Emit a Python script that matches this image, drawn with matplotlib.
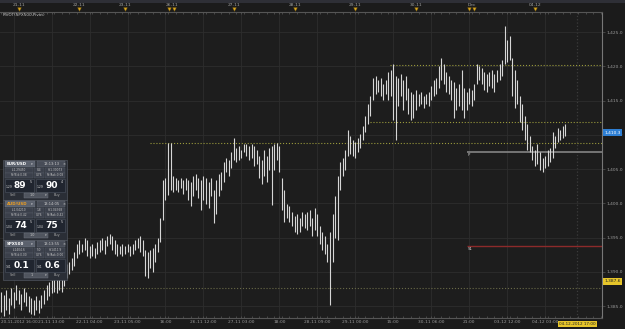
import numpy as np
import matplotlib.pyplot as plt
from matplotlib.patches import Rectangle
from matplotlib.ticker import FixedLocator, MultipleLocator
from matplotlib.transforms import blended_transform_factory, ScaledTranslation

# hourly SPX500 bars (high / low)
highs = [1387.0, 1386.6, 1387.3, 1386.2, 1387.6, 1387.0, 1388.1, 1387.3, 1386.8, 1387.6,
         1387.0, 1386.5, 1386.2, 1385.9, 1386.5, 1385.9, 1386.6, 1387.3, 1388.1, 1388.5,
         1388.8, 1389.4, 1389.1, 1389.2, 1389.2, 1390.3, 1391.1, 1391.4, 1392.0, 1392.9,
         1394.1, 1394.6, 1394.1, 1394.9, 1394.6, 1393.8, 1394.1, 1393.5, 1394.3, 1394.6,
         1394.9, 1394.6, 1395.2, 1395.5, 1395.2, 1394.6, 1394.1, 1393.8, 1394.1, 1393.8,
         1394.1, 1393.8, 1394.1, 1394.6, 1394.9, 1395.2, 1394.6, 1393.2, 1392.9, 1393.2,
         1393.5, 1394.1, 1394.9, 1397.8, 1403.4, 1403.7, 1408.8, 1408.8, 1404.0, 1403.7,
         1403.4, 1403.7, 1403.4, 1403.7, 1403.4, 1403.1, 1404.0, 1404.3, 1403.7, 1403.4,
         1404.0, 1403.7, 1403.1, 1403.7, 1401.9, 1403.4, 1404.3, 1404.6, 1406.0, 1406.6,
         1406.3, 1407.5, 1409.5, 1408.1, 1408.4, 1407.8, 1408.6, 1408.6, 1408.4, 1408.6,
         1408.4, 1407.8, 1406.9, 1406.3, 1407.8, 1406.9, 1408.1, 1408.4, 1408.6, 1408.8,
         1408.4, 1403.7, 1401.9, 1399.9, 1399.6, 1398.7, 1398.1, 1398.4, 1397.8, 1398.7,
         1398.4, 1398.7, 1399.0, 1397.8, 1399.3, 1398.4, 1396.7, 1395.8, 1395.2, 1394.1,
         1395.8, 1398.4, 1401.1, 1404.0, 1406.0, 1406.6, 1407.8, 1410.7, 1409.8, 1409.2,
         1408.9, 1409.5, 1410.1, 1411.3, 1412.7, 1414.5, 1415.7, 1418.3, 1418.6, 1418.0,
         1418.3, 1417.4, 1418.0, 1419.2, 1419.5, 1420.3, 1418.6, 1418.3, 1418.9, 1418.0,
         1418.6, 1416.8, 1416.2, 1415.9, 1416.5, 1415.9, 1416.2, 1415.7, 1415.9, 1416.2,
         1417.1, 1418.0, 1418.3, 1420.0, 1421.2, 1420.3, 1419.2, 1418.6, 1418.0, 1417.7,
         1416.8, 1417.4, 1419.5, 1416.8, 1416.2, 1416.8, 1416.5, 1417.4, 1420.3, 1420.0,
         1419.7, 1419.2, 1418.9, 1419.2, 1419.5, 1418.9, 1419.5, 1420.3, 1420.9, 1425.9,
         1423.8, 1424.4, 1421.2, 1419.5, 1418.0, 1415.7, 1414.5, 1412.7, 1411.6, 1409.8,
         1408.4, 1407.8, 1408.6, 1407.5, 1406.6, 1406.9, 1407.8, 1408.1, 1410.4, 1409.8,
         1411.0, 1410.7, 1411.3, 1411.6]
lows = [1384.1, 1383.5, 1384.4, 1383.8, 1385.1, 1384.7, 1385.9, 1385.3, 1384.4, 1385.6,
        1385.0, 1384.1, 1383.8, 1383.7, 1384.4, 1384.0, 1384.7, 1385.3, 1385.9, 1386.5,
        1386.9, 1387.0, 1386.9, 1387.3, 1387.0, 1387.9, 1389.1, 1389.7, 1390.3, 1390.8,
        1392.0, 1392.6, 1392.9, 1393.2, 1392.3, 1392.0, 1392.3, 1392.0, 1392.6, 1392.9,
        1393.2, 1392.6, 1393.8, 1394.1, 1393.2, 1392.6, 1392.3, 1392.6, 1392.3, 1392.6,
        1392.9, 1392.3, 1392.6, 1393.2, 1393.5, 1392.9, 1392.3, 1389.4, 1389.1, 1390.5,
        1390.0, 1391.4, 1392.9, 1394.3, 1397.6, 1400.5, 1401.2, 1401.9, 1401.6, 1401.9,
        1401.6, 1402.2, 1401.4, 1401.9, 1400.5, 1399.6, 1401.1, 1401.9, 1400.8, 1399.0,
        1400.5, 1399.9, 1399.3, 1401.1, 1397.1, 1398.4, 1401.1, 1401.9, 1403.1, 1404.6,
        1404.0, 1405.1, 1406.3, 1406.0, 1406.3, 1406.6, 1407.5, 1406.9, 1406.3, 1406.6,
        1405.4, 1405.7, 1403.7, 1402.8, 1404.0, 1403.1, 1404.9, 1399.7, 1404.9, 1406.3,
        1404.6, 1399.0, 1397.3, 1397.8, 1397.3, 1396.7, 1395.8, 1395.5, 1395.8, 1396.7,
        1396.4, 1396.1, 1396.7, 1395.2, 1396.1, 1395.2, 1394.1, 1393.2, 1392.6, 1391.4,
        1385.1, 1391.4, 1394.9, 1394.6, 1401.9, 1404.0, 1404.9, 1406.9, 1407.2, 1406.9,
        1406.6, 1407.5, 1408.1, 1409.2, 1410.4, 1411.6, 1412.7, 1415.1, 1415.9, 1416.2,
        1415.7, 1415.1, 1415.9, 1415.1, 1415.7, 1412.2, 1409.2, 1414.2, 1415.7, 1413.6,
        1415.1, 1413.0, 1412.2, 1412.4, 1413.6, 1414.2, 1414.5, 1413.9, 1414.5, 1414.2,
        1415.1, 1415.7, 1415.9, 1416.8, 1418.0, 1417.4, 1416.2, 1415.9, 1415.1, 1412.4,
        1413.6, 1414.2, 1413.6, 1412.4, 1413.6, 1414.5, 1414.2, 1415.1, 1417.4, 1418.0,
        1417.4, 1416.5, 1416.2, 1417.1, 1416.8, 1416.2, 1417.7, 1418.0, 1418.6, 1420.3,
        1420.6, 1420.9, 1415.7, 1413.9, 1414.5, 1411.9, 1410.7, 1409.2, 1407.8, 1407.5,
        1406.3, 1405.4, 1405.7, 1404.9, 1404.6, 1405.1, 1405.4, 1406.0, 1406.6, 1408.1,
        1408.9, 1409.2, 1409.5, 1409.8]

# pivot levels
level_values = [1420.2, 1411.9, 1408.8, 1407.5, 1393.8, 1387.6]
level_start = [153.8, 145.8, 58.9, 184.2, 184.2, 0]
level_names = ["", "", "", "P", "S1", ""]

price_ticks = [1385, 1390, 1395, 1400, 1405, 1410, 1415, 1420, 1425]
last_price = 1410.3
marked_price = 1388.6

time_tick_idx = [5, 20, 35, 50, 65, 80, 95, 110, 125, 140, 155, 170, 185, 200, 215]
time_tick_labels = ["20-11-2012 16:00", "21-11 13:00", "22-11 04:00", "23-11 05:00", "16:00",
                    "26-11 12:00", "27-11 03:00", "18:00", "28-11 09:00", "29-11 00:00",
                    "15:00", "30-11 06:00", "21:00", "03-12 12:00", "04-12 03:00"]
day_idx = [7, 31, 49, 67.5, 92, 116, 140, 164, 186, 211]
day_labels = ["21-11", "22-11", "23-11", "26-11", "27-11", "28-11", "29-11", "30-11", "Dec", "04-12"]
event_idx = [7, 31, 49, 66.5, 68.5, 92, 116, 140, 164, 185, 187, 211]
cursor_idx = 227.7
cursor_label = "04-12-2012 17:00"

W, H = 625, 329
bg = '#1b1b1b'
fig = plt.figure(figsize=(W / 100, H / 100), dpi=100, facecolor=bg)
ax = fig.add_axes([0, (H - 318) / H, 602 / W, 306 / H])
ax.set_facecolor('#1d1d1d')

x = np.arange(len(highs))
ax.vlines(x, lows, highs, color='#d6d6d6', lw=0.8, zorder=3)

ax.set_xlim(-0.4, 237.5)
ax.set_ylim(1383.25, 1427.92)

# pivot lines
styles = [('#9a9a3c', ':', 0.8), ('#9a9a3c', ':', 0.8), ('#9a9a3c', ':', 0.8),
          ('#7c7c7c', '-', 1.3), ('#8c2a2a', '-', 1.0), ('#6a6a48', ':', 0.8)]
for v, s, nm, (c, ls, lw) in zip(level_values, level_start, level_names, styles):
    ax.hlines(v, s, 237.5, colors=c, linestyles=ls, lw=lw, zorder=2)
    if nm:
        ax.text(s + 0.3, v - 0.15, nm, color='#cccccc', fontsize=2.8, va='top', ha='left')

ax.axvline(cursor_idx, color='#3c3c3c', ls=':', lw=0.9, zorder=1)

# axes / grid
ax.yaxis.tick_right()
ax.set_yticks(price_ticks)
ax.set_yticklabels(['{:,.1f}'.format(p) for p in price_ticks])
ax.xaxis.set_major_locator(FixedLocator(time_tick_idx))
ax.set_xticklabels(time_tick_labels)
ax.xaxis.set_minor_locator(MultipleLocator(3))
ax.grid(True, color='#2d2d2d', lw=0.6, zorder=0)
ax.tick_params(axis='y', colors='#555555', labelcolor='#9a9a9a', labelsize=3.2, length=2, pad=1.5, width=0.5)
ax.tick_params(axis='x', which='both', colors='#5a5a5a', labelcolor='#9a9a9a', labelsize=3.2,
               length=1.5, pad=1.2, width=0.5, top=True, direction='in')
# first label starts at the left edge instead of being centred on its tick
first = ax.get_xticklabels()[0]
first.set_horizontalalignment('left')
first.set_fontsize(3.0)
first.set_transform(first.get_transform() + ScaledTranslation(-13 / 100, 0, fig.dpi_scale_trans))
ax.spines['left'].set_visible(False)
ax.spines['right'].set_color('#777777')
ax.spines['right'].set_linewidth(0.8)
ax.spines['top'].set_color('#555555')
ax.spines['bottom'].set_color('#555555')

tx = ax.get_xaxis_transform()
for d, lbl in zip(day_idx, day_labels):
    ax.text(d, 1 + 7 / 306, lbl, transform=tx, fontsize=3.2, color='#a0a0a0',
            ha='center', va='center', clip_on=False)
ax.plot(event_idx, [1 + 3.5 / 306] * len(event_idx), transform=tx, ls='none', marker='v',
        ms=2.6, color='#d8a520', mec='#8a6a10', mew=0.3, clip_on=False)
ax.text(cursor_idx, -6 / 306, cursor_label, transform=tx, fontsize=3.0, color='#222222',
        ha='center', va='center', clip_on=False,
        bbox=dict(boxstyle='square,pad=0.25', fc='#e6c52a', ec='none'))

ty = blended_transform_factory(ax.transAxes, ax.transData)
ax.text(1.004, last_price, '{:,.1f}'.format(last_price), transform=ty, fontsize=3.2, color='white',
        ha='left', va='center', clip_on=False,
        bbox=dict(boxstyle='square,pad=0.3', fc='#2e7fd4', ec='none'))
ax.text(1.004, marked_price, '1,387.6', transform=ty, fontsize=3.2, color='#222222',
        ha='left', va='center', clip_on=False,
        bbox=dict(boxstyle='square,pad=0.3', fc='#e6c52a', ec='none'))

# overlay in pixel coords: title, top strip and trading widgets
ov = fig.add_axes([0, 0, 1, 1], zorder=5)
ov.set_xlim(0, W)
ov.set_ylim(H, 0)
ov.axis('off')
ov.patch.set_alpha(0)
ov.add_patch(Rectangle((0, 0), W, 2.5, fc='#2e2f36', ec='none'))
ov.text(3, 15, 'PIVOT(SPX500,Pivot)', fontsize=3.0, color='#c8c8c8', va='center')

panels = [
    ("EUR/USD", "13:13:13", ["L:1.29450", "8.4", "H:1.30073"], ["RefBid:0.08", "0.76", "RefAsk:0.08"],
     ("1.29", "89", "5"), ("1.29", "90", "4"), "1.0", '#ffffff'),
    ("AUD/USD", "13:14:05", ["L:1.04210", "1.8", "H:1.04368"], ["RefBid:0.42", "0.76", "RefAsk:0.42"],
     ("1.04", "74", "5"), ("1.04", "75", "5"), "1.0", '#f0a020'),
    ("SPX500", "13:13:55", ["L:1404.6", "5.0", "H:1411.9"], ["RefBid:0.00", "0.76", "RefAsk:0.00"],
     ("141", "0.1", ""), ("141", "0.6", ""), "1", '#ffffff'),
]


def draw_panel(y0, sym, tm, row1, row2, bid, ask, lot, symcol):
    ov.add_patch(Rectangle((3, y0 - 1), 64, 40, fc='#2a2e36', ec='#5a606a', lw=0.4))
    ov.add_patch(Rectangle((5, y0), 30, 6, fc='#5b616d', ec='#767c88', lw=0.3))
    ov.text(7, y0 + 3, sym, fontsize=2.9, color=symcol, va='center', fontweight='bold')
    ov.text(31, y0 + 3, '▾', fontsize=2.5, color='#dddddd', va='center')
    ov.add_patch(Rectangle((37, y0), 28, 6, fc='#474c57', ec='#676d78', lw=0.3))
    ov.text(60, y0 + 3, tm, fontsize=2.6, color='#d0d0d0', va='center', ha='right')
    ov.text(62.5, y0 + 3, '×', fontsize=2.6, color='#d0d0d0', va='center')
    cells = [(5, 28), (34, 10), (45, 20)]
    for ry, row in [(y0 + 7, row1), (y0 + 12, row2)]:
        for (cx, cw), t in zip(cells, row):
            ov.add_patch(Rectangle((cx, ry), cw, 4.5, fc='#3b404b', ec='#555b66', lw=0.3))
            ov.text(cx + cw / 2, ry + 2.3, t, fontsize=2.1, color='#c4c4c4', va='center', ha='center')
    for bx, (small, big, sup) in [(5, bid), (36, ask)]:
        ov.add_patch(Rectangle((bx, y0 + 17.5), 29, 13, fc='#20252f', ec='#4d5360', lw=0.4))
        ov.text(bx + 1.0, y0 + 26.5, small, fontsize=2.2, color='#d8d8d8', va='center')
        ov.text(bx + 9.0, y0 + 24.5, big, fontsize=6.5, color='white', va='center', fontweight='bold')
        if sup:
            ov.text(bx + 25, y0 + 21, sup, fontsize=2.4, color='#d8d8d8', va='center')
    ov.text(13, y0 + 34, 'Sell', fontsize=2.5, color='#a8a8a8', va='center', ha='center')
    ov.add_patch(Rectangle((24, y0 + 31.5), 24, 5, fc='#50555f', ec='#70767f', lw=0.3))
    ov.text(32, y0 + 34, lot, fontsize=2.4, color='#cccccc', va='center', ha='center')
    ov.text(45.5, y0 + 34, '▾', fontsize=2.4, color='#cccccc', va='center', ha='center')
    ov.text(57, y0 + 34, 'Buy', fontsize=2.5, color='#a8a8a8', va='center', ha='center')


for k, p in enumerate(panels):
    draw_panel(161 + 40 * k, *p)

plt.savefig('out.png', dpi=100, facecolor=bg)
